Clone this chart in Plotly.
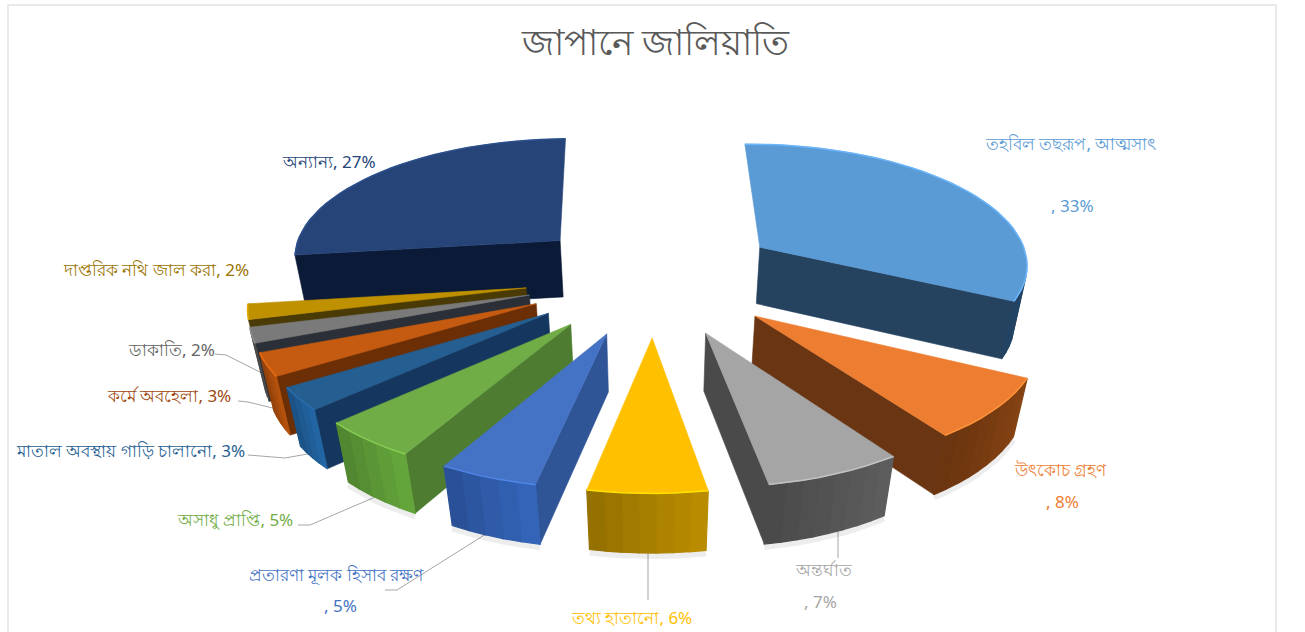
import math
import plotly.graph_objects as go

# Fraud categories in Japan, percent of reported cases
categories = ["তহবিল তছরূপ, আত্মসাৎ", "উৎকোচ গ্রহণ", "অন্তর্ঘাত", "তথ্য হাতানো",
              "প্রতারণা মূলক হিসাব রক্ষণ", "অসাধু প্রাপ্তি", "মাতাল অবস্থায় গাড়ি চালানো",
              "কর্মে অবহেলা", "ডাকাতি", "দাপ্তরিক নথি জাল করা", "অন্যান্য"]
values = [33, 8, 7, 6, 5, 5, 3, 3, 2, 2, 27]
title_text = "জাপানে জালিয়াতি"

top_colors = ["#5B9BD5", "#ED7D31", "#A5A5A5", "#FFC000", "#4472C4", "#70AD47",
              "#255E91", "#C55A11", "#7A7A7A", "#BF9000", "#264478"]
outer_colors = ["#2A4F74", "#7A3D12", "#555555", "#A98000", "#2F5BA8", "#5B9636",
                "#1F5C94", "#A34A0C", "#4A4A4A", "#6E5500", "#1A3260"]
radial_colors = ["#25425F", "#693512", "#4A4A4A", "#8F6C00", "#2F5597", "#4E7D32",
                 "#14365F", "#6B2E05", "#2A2F38", "#4A3A05", "#0B1A36"]
text_colors = ["#5B9BD5", "#ED7D31", "#A5A5A5", "#FFC000", "#4472C4", "#70AD47",
               "#255E91", "#9E480E", "#636363", "#997300", "#264478"]

# label centre, optional second line, and leader-line elbow points in page pixels
label_layout = [
    (1070, 143, ", 33%", 1072, 205, None),
    (1060, 469, ", 8%", 1062, 501, None),
    (823, 569, ", 7%", 820, 601, [(838, 558), (838, 500)]),
    (631, 617, None, 0, 0, [(648, 600), (648, 500)]),
    (336, 574, ", 5%", 340, 605, [(385, 590), (397, 590)]),
    (235, 519, None, 0, 0, [(298, 525), (310, 525)]),
    (130, 450, None, 0, 0, [(248, 455), (285, 458)]),
    (169, 395, None, 0, 0, [(238, 401), (248, 402)]),
    (171, 349, None, 0, 0, [(215, 354), (226, 355)]),
    (156, 269, None, 0, 0, None),
    (329, 161, None, 0, 0, None),
]

# Camera model for the tilted pie
CX, CY = 654.0, 277.0
SCALE_X, SCALE_Y, DEPTH = 286.0, 128.0, 59.0
PERSP_Y, PERSP_Z = 0.123, 0.035
EXPLODE = 0.45
RADIUS = 0.95
FIRST_SLICE_ANGLE = -1.0


def project(px, py, pz):
    w = 1 + PERSP_Y * py - PERSP_Z * pz
    return CX + SCALE_X * px / w, CY - (SCALE_Y * py + DEPTH * pz) / w


def shade(hex_color, factor):
    r, g, b = (int(hex_color[i:i + 2], 16) for i in (1, 3, 5))
    return "rgb({},{},{})".format(*(min(255, int(c * factor)) for c in (r, g, b)))


def signed_area(points):
    return sum(a[0] * b[1] - b[0] * a[1] for a, b in zip(points, points[1:] + points[:1])) / 2


fig = go.Figure()


def add_poly(points, color, edge=0.6):
    xs = [p[0] for p in points] + [points[0][0]]
    ys = [p[1] for p in points] + [points[0][1]]
    fig.add_trace(go.Scatter(x=xs, y=ys, mode="lines", fill="toself", fillcolor=color,
                             line=dict(color=color, width=edge), hoverinfo="skip",
                             showlegend=False))


def add_line(points, color, width):
    fig.add_trace(go.Scatter(x=[p[0] for p in points], y=[p[1] for p in points], mode="lines",
                             line=dict(color=color, width=width), hoverinfo="skip",
                             showlegend=False))


total = sum(values)
slices = []
start = FIRST_SLICE_ANGLE
for i, v in enumerate(values):
    sweep = 360.0 * v / total
    slices.append((i, start, start + sweep))
    start += sweep


def draw_slice(i, a0, a1):
    mid = math.radians((a0 + a1) / 2)
    ox, oy = EXPLODE * math.sin(mid), EXPLODE * math.cos(mid)
    n = max(4, int((a1 - a0) / 3))
    angs = [math.radians(a0 + (a1 - a0) * k / n) for k in range(n + 1)]
    rim = [(ox + RADIUS * math.sin(t), oy + RADIUS * math.cos(t)) for t in angs]
    centre = (ox, oy)

    top_rim = [project(x, y, 0) for x, y in rim]
    low_rim = [project(x, y, -1) for x, y in rim]
    top_c, low_c = project(*centre, 0), project(*centre, -1)

    # Soft contact shadow under the front slices
    if 1 <= i <= 5:
        add_line([(x, y + 3) for x, y in low_rim], "rgba(0,0,0,0.07)", 6)

    # Radial cut faces: skip edges pointing to the back and those turned away
    start_face = [top_c, low_c, low_rim[0], top_rim[0]]
    end_face = [top_c, top_rim[-1], low_rim[-1], low_c]
    if signed_area(start_face) > 0 and math.cos(angs[0]) < 0.8:
        add_poly(start_face, radial_colors[i])
    if signed_area(end_face) > 0 and math.cos(angs[-1]) < 0.8:
        add_poly(end_face, radial_colors[i])

    # Rim drawn in short strips so the shading runs along the curve
    for k in range(n):
        strip = [top_rim[k], low_rim[k], low_rim[k + 1], top_rim[k + 1]]
        if signed_area(strip) > 0:
            tint = 1.1 - 0.25 * k / n
            add_poly(strip, shade(outer_colors[i], tint), edge=1.2)

    add_poly([top_c] + top_rim, top_colors[i])
    add_line(top_rim, shade(top_colors[i], 1.18), 1.5)


# Leader lines run underneath the slices
for i, (lx, ly, extra, ex, ey, leader) in enumerate(label_layout):
    if leader is None:
        continue
    mid = math.radians((slices[i][1] + slices[i][2]) / 2)
    ox, oy = EXPLODE * math.sin(mid), EXPLODE * math.cos(mid)
    foot = project(ox + RADIUS * 0.9 * math.sin(mid), oy + RADIUS * 0.9 * math.cos(mid), -1)
    add_line(leader + [foot], "#A6A6A6", 1)

# Back slices first, then the fan at the left, then the front slices moving to the centre
paint_order = [10, 0, 9, 8, 7, 6, 5, 4, 1, 2, 3]
for idx in paint_order:
    draw_slice(*slices[idx])

annotations = [dict(x=655, y=41, xref="x", yref="y", text=title_text, showarrow=False,
                    font=dict(size=36, color="#595959"))]
for i, (lx, ly, extra, ex, ey, leader) in enumerate(label_layout):
    pct = f"{values[i]}%"
    text = categories[i] if extra else f"{categories[i]}, {pct}"
    annotations.append(dict(x=lx, y=ly, xref="x", yref="y", text=text, showarrow=False,
                            font=dict(size=17, color=text_colors[i])))
    if extra:
        annotations.append(dict(x=ex, y=ey, xref="x", yref="y", text=f", {pct}", showarrow=False,
                                font=dict(size=17, color=text_colors[i])))

fig.update_layout(
    width=1305, height=632, margin=dict(l=0, r=0, t=0, b=0),
    paper_bgcolor="white", plot_bgcolor="white", showlegend=False,
    font=dict(family="Noto Sans, Liberation Sans, sans-serif"),
    xaxis=dict(range=[0, 1305], visible=False, fixedrange=True),
    yaxis=dict(range=[632, 0], visible=False, fixedrange=True),
    annotations=annotations,
    shapes=[dict(type="rect", xref="x", yref="y", x0=8, y0=5, x1=1276, y1=640,
                 line=dict(color="#E4E4E4", width=1.5))],
)

fig.write_html("out.html")
